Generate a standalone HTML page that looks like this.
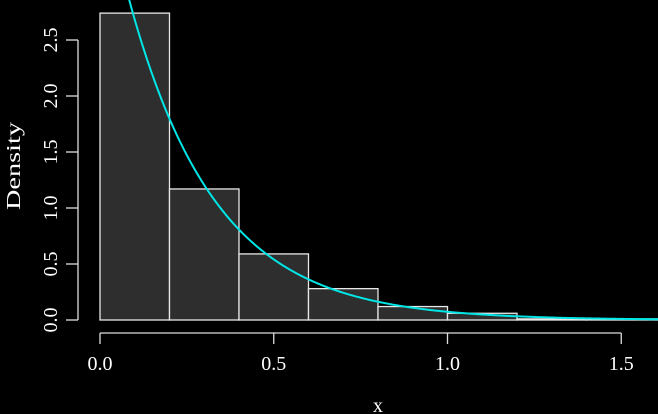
<!DOCTYPE html>
<html><head><meta charset="utf-8"><style>
html,body{margin:0;padding:0;background:#000;width:658px;height:414px;overflow:hidden}
text{font-family:"Liberation Serif",serif;fill:#fff;font-size:20px}
</style></head><body>
<svg id="chart" width="658" height="414" xmlns="http://www.w3.org/2000/svg">
<defs><clipPath id="plotclip"><rect x="0" y="0" width="658" height="333"/></clipPath></defs>
<g id="bars"></g>
<path id="curve" fill="none" stroke="#00e5e5" stroke-width="2" clip-path="url(#plotclip)"/>
<g id="axes"></g>
<text x="378" y="412" text-anchor="middle" font-size="24">x</text>
<text transform="translate(20,166) rotate(-90)" text-anchor="middle" font-size="25" textLength="88" lengthAdjust="spacingAndGlyphs">Density</text>
</svg>
<script>
const binEdges = [0.0, 0.2, 0.4, 0.6, 0.8, 1.0, 1.2, 1.4, 1.6, 1.8];
const densities = [2.74, 1.17, 0.59, 0.28, 0.12, 0.06, 0.01, 0.01, 0.01];
const xTicks = [0.0, 0.5, 1.0, 1.5];
const xTickLabels = ["0.0", "0.5", "1.0", "1.5"];
const yTicks = [0.0, 0.5, 1.0, 1.5, 2.0, 2.5];
const yTickLabels = ["0.0", "0.5", "1.0", "1.5", "2.0", "2.5"];
const rate = [4.0];

const NS = "http://www.w3.org/2000/svg";
function sx(v){return 100 + v*347.5;}
function sy(v){return 320 - v*112;}
function mk(tag, attrs, parent){const e=document.createElementNS(NS,tag);for(const k in attrs)e.setAttribute(k,attrs[k]);parent.appendChild(e);return e;}

const bars=document.getElementById('bars');
densities.forEach((d,i)=>{
  const x0=sx(binEdges[i]), x1=sx(binEdges[i+1]);
  const r=mk('rect',{x:x0,y:sy(d),width:x1-x0,height:sy(0)-sy(d),fill:'#2e2e2e',stroke:'#e8e8e8','stroke-width':1.3},bars);
  
  
});

let dstr='';
for(let i=0;i<=400;i++){const x=0.02+i*(1.9/400);const y=rate[0]*Math.exp(-rate[0]*x);dstr+=(i?'L':'M')+sx(x).toFixed(2)+' '+sy(y).toFixed(2);}
document.getElementById('curve').setAttribute('d',dstr);

const ax=document.getElementById('axes');
mk('line',{x1:sx(xTicks[0]),x2:sx(xTicks[xTicks.length-1]),y1:333,y2:333,stroke:'#ddd','stroke-width':1.3},ax);
xTicks.forEach((t,i)=>{
  mk('line',{x1:sx(t),x2:sx(t),y1:333,y2:344,stroke:'#ddd','stroke-width':1.3},ax);
  const tx=mk('text',{x:sx(t),y:370,'text-anchor':'middle'},ax);
  tx.textContent=xTickLabels[i];
  
  
});
mk('line',{x1:78,x2:78,y1:sy(yTicks[0]),y2:sy(yTicks[yTicks.length-1]),stroke:'#ddd','stroke-width':1.3},ax);
yTicks.forEach((t,i)=>{
  mk('line',{x1:66,x2:78,y1:sy(t),y2:sy(t),stroke:'#ddd','stroke-width':1.3},ax);
  const tx=mk('text',{transform:`translate(57,${sy(t)}) rotate(-90)`,'text-anchor':'middle'},ax);
  tx.textContent=yTickLabels[i];
  
  
});
</script>
</body></html>
